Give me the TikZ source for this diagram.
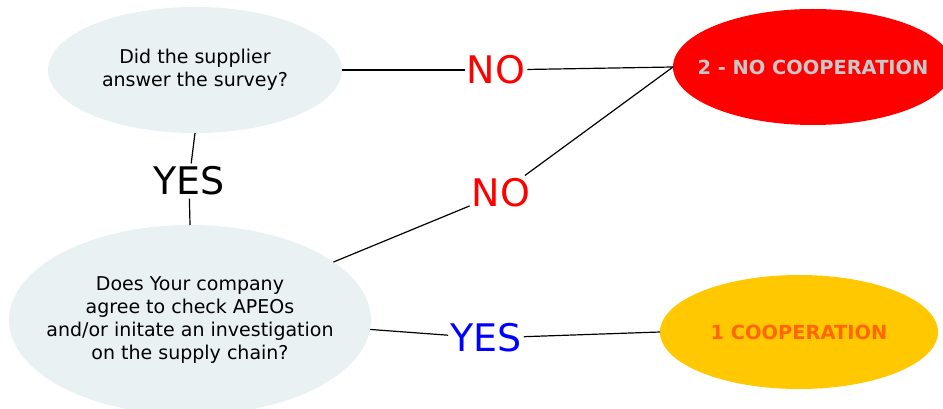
\documentclass[tikz,border=0pt]{standalone}
\usepackage{fontspec}
\setmainfont{DejaVu Sans}
\usetikzlibrary{shapes.geometric}
\definecolor{qfill}{HTML}{EAF1F3}
\definecolor{nored}{HTML}{FF0000}
\definecolor{coopyel}{HTML}{FFC800}
\definecolor{cooporange}{HTML}{FF6600}
\definecolor{nogray}{HTML}{C8C8C8}
\definecolor{yesblue}{HTML}{0000FF}
\tikzset{
  blob/.style={ellipse, inner sep=0pt, outer sep=0pt},
  qtext/.style={inner sep=0pt, align=center, font=\fontsize{19}{23}\selectfont},
  otext/.style={inner sep=0pt, align=center, font=\fontsize{19.4}{22}\selectfont\bfseries},
  answer/.style={inner xsep=2pt, inner ysep=3.5pt, text height=27.7pt, text depth=0pt,
    font=\fontsize{38}{40}\selectfont},
  link/.style={draw=black, line width=1.2pt}
}
\begin{document}
\begin{tikzpicture}[x=1pt,y=-1pt]
\useasboundingbox (0,0) rectangle (943,409);
\clip (0,0) rectangle (943,409);
\fill[white] (0,0) rectangle (943,409);

\node[blob, fill=qfill, minimum width=294pt, minimum height=126pt] (q1) at (195,70) {};
\node[qtext] (q1t) at (q1.center) {Did the supplier\\answer the survey?};
\node[blob, fill=qfill, minimum width=362pt, minimum height=190pt] (q2) at (190,320) {};
\node[qtext] (q2t) at (q2.center) {Does Your company\\agree to check APEOs\\and/or initate an investigation\\on the supply chain?};
\node[blob, fill=nored, minimum width=280pt, minimum height=116pt] (nocoop) at (813,67) {};
\node[otext, text=nogray] (nocoopt) at (nocoop.center) {2 - NO COOPERATION};
\node[blob, fill=coopyel, minimum width=278pt, minimum height=114pt] (coop) at (799,332) {};
\node[otext, text=cooporange] (coopt) at (coop.center) {1 COOPERATION};

\node[answer, text=nored] (no1) at (496,70) {NO};
\node[answer, text=nored] (no2) at (501,193) {NO};
\node[answer, text=black] (yes1) at (189,181) {YES};
\node[answer, text=yesblue] (yes2) at (486,338) {YES};

\draw[link] (q1.east) -- (no1);
\draw[link] (no1) -- (nocoop.west);
\draw[link] (q2.22) -- (no2);
\draw[link] (no2) -- (nocoop.west);
\draw[link] (q1.south) -- (yes1);
\draw[link] (yes1) -- (q2.north);
\draw[link] (q2.-3.5) -- (yes2);
\draw[link] (yes2) -- (coop.west);
\end{tikzpicture}
\end{document}
